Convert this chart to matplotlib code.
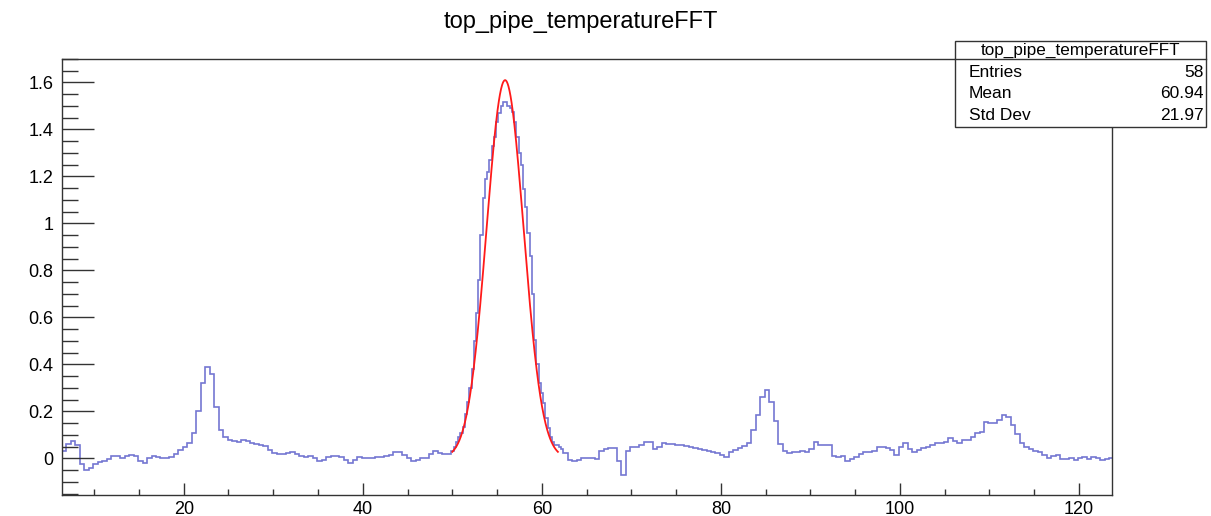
import numpy as np
import matplotlib
matplotlib.use("Agg")
import matplotlib.pyplot as plt
from matplotlib.patches import Rectangle
from matplotlib.ticker import MultipleLocator, FormatStrFormatter

plt.rcParams['font.family'] = ['Liberation Sans', 'DejaVu Sans']

# histogram contents
# left part: bins of 0.5 from 6.4 to 49.9
counts_left = [
    0.03, 0.06, 0.075, 0.055, -0.025, -0.048, -0.04, -0.022, -0.016, -0.012,
    -0.003, 0.012, 0.01, 0.0, 0.01, 0.014, 0.008, -0.012, -0.018, 0.0,
    0.008, 0.007, 0.002, 0.0, 0.006, 0.02, 0.035, 0.05, 0.065, 0.11,
    0.2, 0.32, 0.39, 0.36, 0.22, 0.12, 0.09, 0.078, 0.072, 0.07,
    0.077, 0.072, 0.065, 0.06, 0.055, 0.052, 0.035, 0.022, 0.018, 0.02,
    0.024, 0.026, 0.018, 0.012, 0.005, 0.01, 0.0, -0.01, -0.005, 0.004,
    0.008, 0.01, 0.006, -0.008, -0.02, -0.005, 0.005, 0.003, 0.0, 0.002,
    0.006, 0.004, 0.01, 0.015, 0.025, 0.025, 0.015, 0.0, -0.01, -0.005,
    0.002, 0.0, 0.02, 0.03, 0.024, 0.02, 0.02,
]
# main peak: bins of 0.25 from 49.9 to 62.4
counts_peak = [
    0.03, 0.05, 0.07, 0.09, 0.11, 0.135, 0.19, 0.24, 0.3, 0.38,
    0.5, 0.62, 0.76, 0.95, 1.11, 1.19, 1.22, 1.27, 1.33, 1.37,
    1.43, 1.47, 1.5, 1.515, 1.515, 1.5, 1.49, 1.475, 1.43, 1.37,
    1.3, 1.25, 1.145, 1.07, 0.96, 0.86, 0.7, 0.505, 0.4, 0.32,
    0.28, 0.235, 0.17, 0.13, 0.09, 0.07, 0.057, 0.055, 0.05, 0.04,
]
# right part: bins of 0.5 from 62.4 to 123.9
counts_right = [
    0.022, -0.008, -0.01, -0.005, 0.0, 0.002, 0.0, -0.003,
    0.03, 0.04, 0.045, 0.045, -0.01, -0.07, 0.03, 0.05, 0.05, 0.058,
    0.068, 0.068, 0.04, 0.05, 0.065, 0.063, 0.06, 0.058, 0.055, 0.052,
    0.048, 0.044, 0.04, 0.036, 0.032, 0.027, 0.022, 0.014, 0.005, 0.025,
    0.035, 0.042, 0.052, 0.065, 0.12, 0.185, 0.26, 0.29, 0.24, 0.16,
    0.06, 0.03, 0.024, 0.025, 0.028, 0.03, 0.028, 0.04, 0.07, 0.058,
    0.055, 0.055, 0.008, 0.004, 0.01, -0.01, -0.004, 0.004, 0.02, 0.027,
    0.027, 0.03, 0.048, 0.05, 0.045, 0.035, 0.013, 0.05, 0.065, 0.04,
    0.028, 0.035, 0.042, 0.048, 0.058, 0.065, 0.067, 0.07, 0.085, 0.075,
    0.065, 0.078, 0.078, 0.09, 0.108, 0.113, 0.155, 0.152, 0.15, 0.165,
    0.185, 0.178, 0.14, 0.105, 0.065, 0.047, 0.04, 0.033, 0.027, 0.015,
    0.002, 0.008, 0.015, -0.003, -0.002, 0.0, -0.008, 0.0, 0.004, -0.002,
    0.005, 0.0, -0.005, -0.003, 0.0,
]

# gaussian fit
fit_amp = 1.61
fit_mean = 55.9
fit_sigma = 2.07
fit_range = (50.0, 61.8)

stats_title = "top_pipe_temperatureFFT"
stats_rows = [("Entries", "58"), ("Mean", "60.94"), ("Std Dev", "21.97")]

e_left = 6.4 + 0.5 * np.arange(len(counts_left))
e_peak = e_left[-1] + 0.5 + 0.25 * np.arange(len(counts_peak))
e_right = e_peak[-1] + 0.25 + 0.5 * np.arange(len(counts_right) + 1)
edges = np.concatenate([e_left, e_peak, e_right])
counts = counts_left + counts_peak + counts_right

fig = plt.figure(figsize=(12.11, 5.16), dpi=100)
ax = fig.add_axes([62/1211, 21/516, 1050/1211, 436/516])

ax.stairs(counts, edges, color='#7477d2', lw=1.2)

xf = np.linspace(fit_range[0], fit_range[1], 300)
yf = fit_amp * np.exp(-0.5 * ((xf - fit_mean) / fit_sigma) ** 2)
ax.plot(xf, yf, color='#ff1a1a', lw=1.3)

ax.set_xlim(6.4, 123.7)
ax.set_ylim(-0.156, 1.70)

ax.xaxis.set_major_locator(MultipleLocator(20))
ax.xaxis.set_minor_locator(MultipleLocator(5))
ax.yaxis.set_major_locator(MultipleLocator(0.2))
ax.yaxis.set_minor_locator(MultipleLocator(0.05))
ax.yaxis.set_major_formatter(FormatStrFormatter('%g'))

ax.tick_params(axis='both', which='both', direction='in', labelsize=13,
               color='#333333', width=1)
ax.tick_params(axis='y', which='major', length=23, pad=6)
ax.tick_params(axis='y', which='minor', length=11.5)
ax.tick_params(axis='x', which='major', length=8.6, pad=4)
ax.tick_params(axis='x', which='minor', length=4.3)
for s in ax.spines.values():
    s.set_color('#333333')
    s.set_linewidth(1)

fig.text(581/1211, 1 - 22/516, "top_pipe_temperatureFFT", ha='center',
         va='center', fontsize=17)

# stats box
bx0, bx1 = 955/1211, 1206/1211
by_top, by_bot, by_sep = 1 - 41/516, 1 - 127/516, 1 - 59/516
fig.patches.append(Rectangle((bx0, by_bot), bx1 - bx0, by_top - by_bot,
                             transform=fig.transFigure, facecolor='white',
                             edgecolor='#333333', lw=1, zorder=5))
fig.lines.append(plt.Line2D([bx0, bx1], [by_sep, by_sep],
                            transform=fig.transFigure, color='#333333',
                            lw=1, zorder=6))
fig.text((bx0 + bx1) / 2, 1 - 50.5/516, stats_title, ha='center', va='center',
         fontsize=12.3, zorder=7)
row_y = [72.5, 94, 115.5]
for (name, val), yy in zip(stats_rows, row_y):
    fig.text(969/1211, 1 - yy/516, name, ha='left', va='center',
             fontsize=12.5, zorder=7)
    fig.text(1204/1211, 1 - yy/516, val, ha='right', va='center',
             fontsize=12.5, zorder=7)

fig.savefig("out.png", dpi=100)
